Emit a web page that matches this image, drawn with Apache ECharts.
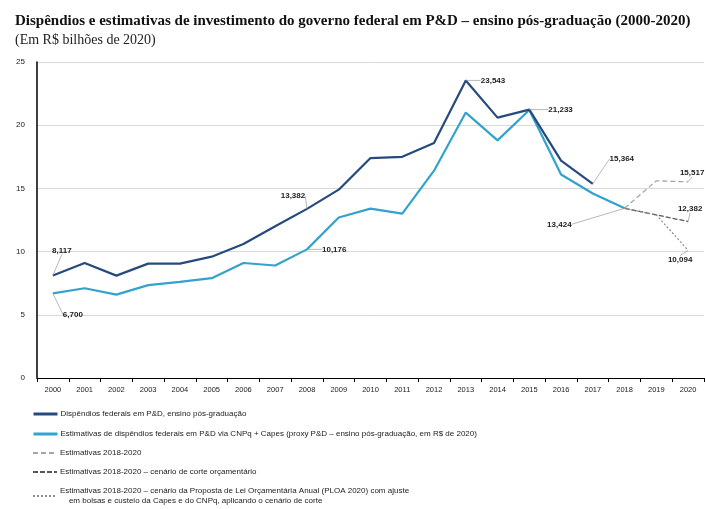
<!DOCTYPE html>
<html><head><meta charset="utf-8">
<script src="https://cdn.jsdelivr.net/npm/echarts@6/dist/echarts.min.js"></script>
<style>html,body{margin:0;padding:0;background:#fff}#c{width:706px;height:509px}</style>
</head><body><div id="c"></div>
<script>
const years = ['2000','2001','2002','2003','2004','2005','2006','2007','2008','2009','2010','2011','2012','2013','2014','2015','2016','2017','2018','2019','2020'];
const dispendios = [8.117,9.1,8.1,9.05,9.05,9.6,10.6,12.0,13.382,14.9,17.4,17.5,18.6,23.543,20.6,21.233,17.2,15.364,null,null,null];
const estimativas = [6.700,7.1,6.6,7.35,7.6,7.9,9.1,8.9,10.176,12.7,13.4,13.0,16.4,21.0,18.8,21.2,16.1,14.6,13.424,null,null];
const proj2020 = [null,null,null,null,null,null,null,null,null,null,null,null,null,null,null,null,null,null,13.424,15.6,15.517];
const projCorte = [null,null,null,null,null,null,null,null,null,null,null,null,null,null,null,null,null,null,13.424,12.9,12.382];
const projPloa = [null,null,null,null,null,null,null,null,null,null,null,null,null,null,null,null,null,null,13.424,12.9,10.094];
const yTicks = [0,5,10,15,20,25];

const names = [
  'Dispêndios federais em P&D, ensino pós-graduação',
  'Estimativas de dispêndios federais em P&D via CNPq + Capes (proxy P&D – ensino pós-graduação, em R$ de 2020)',
  'Estimativas 2018-2020',
  'Estimativas 2018-2020 – cenário de corte orçamentário',
  'Estimativas 2018-2020 – cenário da Proposta de Lei Orçamentária Anual (PLOA 2020) com ajuste\n    em bolsas e custeio da Capes e do CNPq, aplicando o cenário de corte'
];
const legendTops = [409, 429, 448, 467, 486];
const fmt = v => v.toFixed(3).replace('.', ',');
const labelSpec = {
  0: {0:['top',9,-16], 8:['top',-14,-4], 15:['right',14,0], 13:['right',10,0], 17:['top',29,-16]},
  1: {0:['bottom',20,12], 8:['right',10,0], 18:['left',-48,16]},
  2: {20:['top',4,0]},
  3: {20:['top',2,-4]},
  4: {20:['bottom',-8,0]}
};
function mk(arr, si){
  return arr.map((v,i)=>{
    const s = labelSpec[si][i];
    if (v==null || !s) return v;
    return {value:v, label:{show:true, position:s[0], formatter:()=>fmt(v)}};
  });
}
function layout(si){
  return p => { const s = labelSpec[si][p.dataIndex]; return s ? {dx:s[1], dy:s[2]} : {}; };
}
const lblStyle = {fontSize:8, color:'#222', fontFamily:'Liberation Sans', fontWeight:'bold'};
const labelLine = {show:true, lineStyle:{color:'#999', width:0.7}};
const colors = ['#264a7e','#33a2cd','#a6a6a6','#595959','#8c8c8c'];
const base = {type:'line', symbol:'circle', symbolSize:0.01, showSymbol:true, label:lblStyle, labelLine:labelLine};
const series = [
  Object.assign({}, base, {name:names[0], data:mk(dispendios,0), lineStyle:{color:colors[0], width:2.2}, itemStyle:{color:colors[0]}, labelLayout:layout(0), z:5}),
  Object.assign({}, base, {name:names[1], data:mk(estimativas,1), lineStyle:{color:colors[1], width:2.2}, itemStyle:{color:colors[1]}, labelLayout:layout(1), z:4}),
  Object.assign({}, base, {name:names[2], data:mk(proj2020,2), lineStyle:{color:colors[2], width:1.3, type:[5,3]}, itemStyle:{color:colors[2]}, labelLayout:layout(2)}),
  Object.assign({}, base, {name:names[3], data:mk(projCorte,3), lineStyle:{color:colors[3], width:1.3, type:[5,2]}, itemStyle:{color:colors[3]}, labelLayout:layout(3)}),
  Object.assign({}, base, {name:names[4], data:mk(projPloa,4), lineStyle:{color:colors[4], width:1.2, type:[2,2]}, itemStyle:{color:colors[4]}, labelLayout:layout(4)})
];
const legends = names.map((n,i)=>{
  const l = {
    orient:'vertical', left:32, top:legendTops[i], padding:0, itemWidth:24, itemHeight:8,
    data:[n], itemStyle:{opacity:0},
    textStyle:{fontSize:8, fontFamily:'Liberation Sans', color:'#222', padding:[0,0,0,-2], lineHeight:10},
    selectedMode:false
  };
  if (i < 2) l.lineStyle = {width:3};
  return l;
});
const chart = echarts.init(document.getElementById('c'), null, {renderer:'canvas'});
chart.setOption({
  animation:false,
  backgroundColor:'#fff',
  title:{
    text:'Dispêndios e estimativas de investimento do governo federal em P&D – ensino pós-graduação (2000-2020)',
    subtext:'(Em R$ bilhões de 2020)',
    left:10, top:9, itemGap:4,
    textStyle:{fontFamily:'Liberation Serif', fontWeight:'bold', fontSize:15, color:'#111'},
    subtextStyle:{fontFamily:'Liberation Serif', fontSize:14, color:'#222'}
  },
  grid:{left:37, right:2, top:62, bottom:131, containLabel:false},
  legend:legends,
  xAxis:{
    type:'category', data:years, boundaryGap:true,
    axisLine:{lineStyle:{color:'#000', width:1.2}},
    axisTick:{show:true, interval:0, length:4, lineStyle:{color:'#000'}},
    axisLabel:{fontSize:7.5, color:'#222', fontFamily:'Liberation Sans', interval:0, margin:8}
  },
  yAxis:{
    type:'value', min:0, max:25, interval:5,
    axisLine:{show:true, lineStyle:{color:'#000', width:1.5}},
    axisTick:{show:false},
    splitLine:{lineStyle:{color:'#d9d9d9', width:1}},
    axisLabel:{fontSize:8, color:'#222', fontFamily:'Liberation Sans', margin:12, formatter:v=>String(v)}
  },
  series:series
});
</script></body></html>
